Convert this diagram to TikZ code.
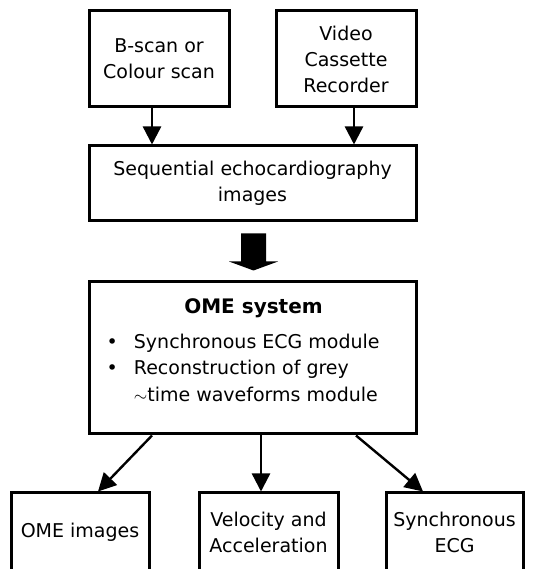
\documentclass[tikz,border=0pt]{standalone}
\usepackage{fontspec}
\setmainfont{DejaVu Sans}
\usepackage{tikz}
\usetikzlibrary{arrows.meta, positioning, calc}

\begin{document}
\begin{tikzpicture}[x=1pt, y=1pt, >={Triangle[width=18pt,length=18pt]}, line width=2.4pt,
        box/.style={draw, line width=3pt, align=center, inner sep=0pt,
            font=\fontsize{19}{26}\selectfont},
        bigarrow/.style={fill=black}]
        % Frame
        \fill[white] (0,0) rectangle (542,569);
        \clip (0,0) rectangle (542,569);
        % Sources
        \node[box, minimum width=140, minimum height=96] (scan) at (159,510) {B-scan or\\Colour scan};
        \node[box, minimum width=140, minimum height=96] (vcr) at (346,510) {Video\\Cassette\\Recorder};
        % Image sequence
        \node[box, minimum width=327, minimum height=75] (seq) at (252.5,385.5) {Sequential echocardiography\\images};
        \draw[->] ([xshift=-7pt]scan.south) -- ([xshift=-7pt]scan.south |- seq.north);
        \draw[->] ([xshift=8pt]vcr.south) -- ([xshift=8pt]vcr.south |- seq.north);
        % OME system
        \node[box, minimum width=327, minimum height=152] (ome) at (252.5,211) {};
        \node[font=\fontsize{20}{24}\selectfont\bfseries, anchor=base, inner sep=0pt] (omet) at ($(ome.north)+(1,-33)$) {OME system};
        \node[anchor=base west, inner sep=0pt, font=\fontsize{19}{26.5}\selectfont] (omel) at ($(ome.north west)+(18,-68)$) {%
            \begin{tabular}[t]{@{}l@{\hspace{16pt}}l@{}}
                \textbullet & Synchronous ECG module\\
                \textbullet & Reconstruction of grey\\
                & $\sim$time waveforms module
            \end{tabular}};
        % Big arrow
        \fill[bigarrow] ($(seq.south)+(-11.5,-11)$) -- ++(25,0) -- ++(0,-28) -- ++(12,0)
            -- ($(ome.north)+(1,10)$) -- ($(seq.south)+(-23.5,-39)$) -- ++(12,0) -- cycle;
        % Outputs
        \node[box, minimum width=138, minimum height=79] (imgs) at (80,36.5) {OME images};
        \node[box, minimum width=139, minimum height=79] (vel) at (268.5,36.5) {Velocity and\\Acceleration};
        \node[box, minimum width=137, minimum height=79] (ecg) at (454.5,36.5) {Synchronous\\ECG};
        \draw[->] ([xshift=-100.5pt]ome.south) -- ([xshift=18pt]imgs.north);
        \draw[->] ([xshift=8.5pt]ome.south) -- ([xshift=-7.5pt]vel.north);
        \draw[->] ([xshift=103.5pt]ome.south) -- ([xshift=-31.5pt]ecg.north);
\end{tikzpicture}
\end{document}
